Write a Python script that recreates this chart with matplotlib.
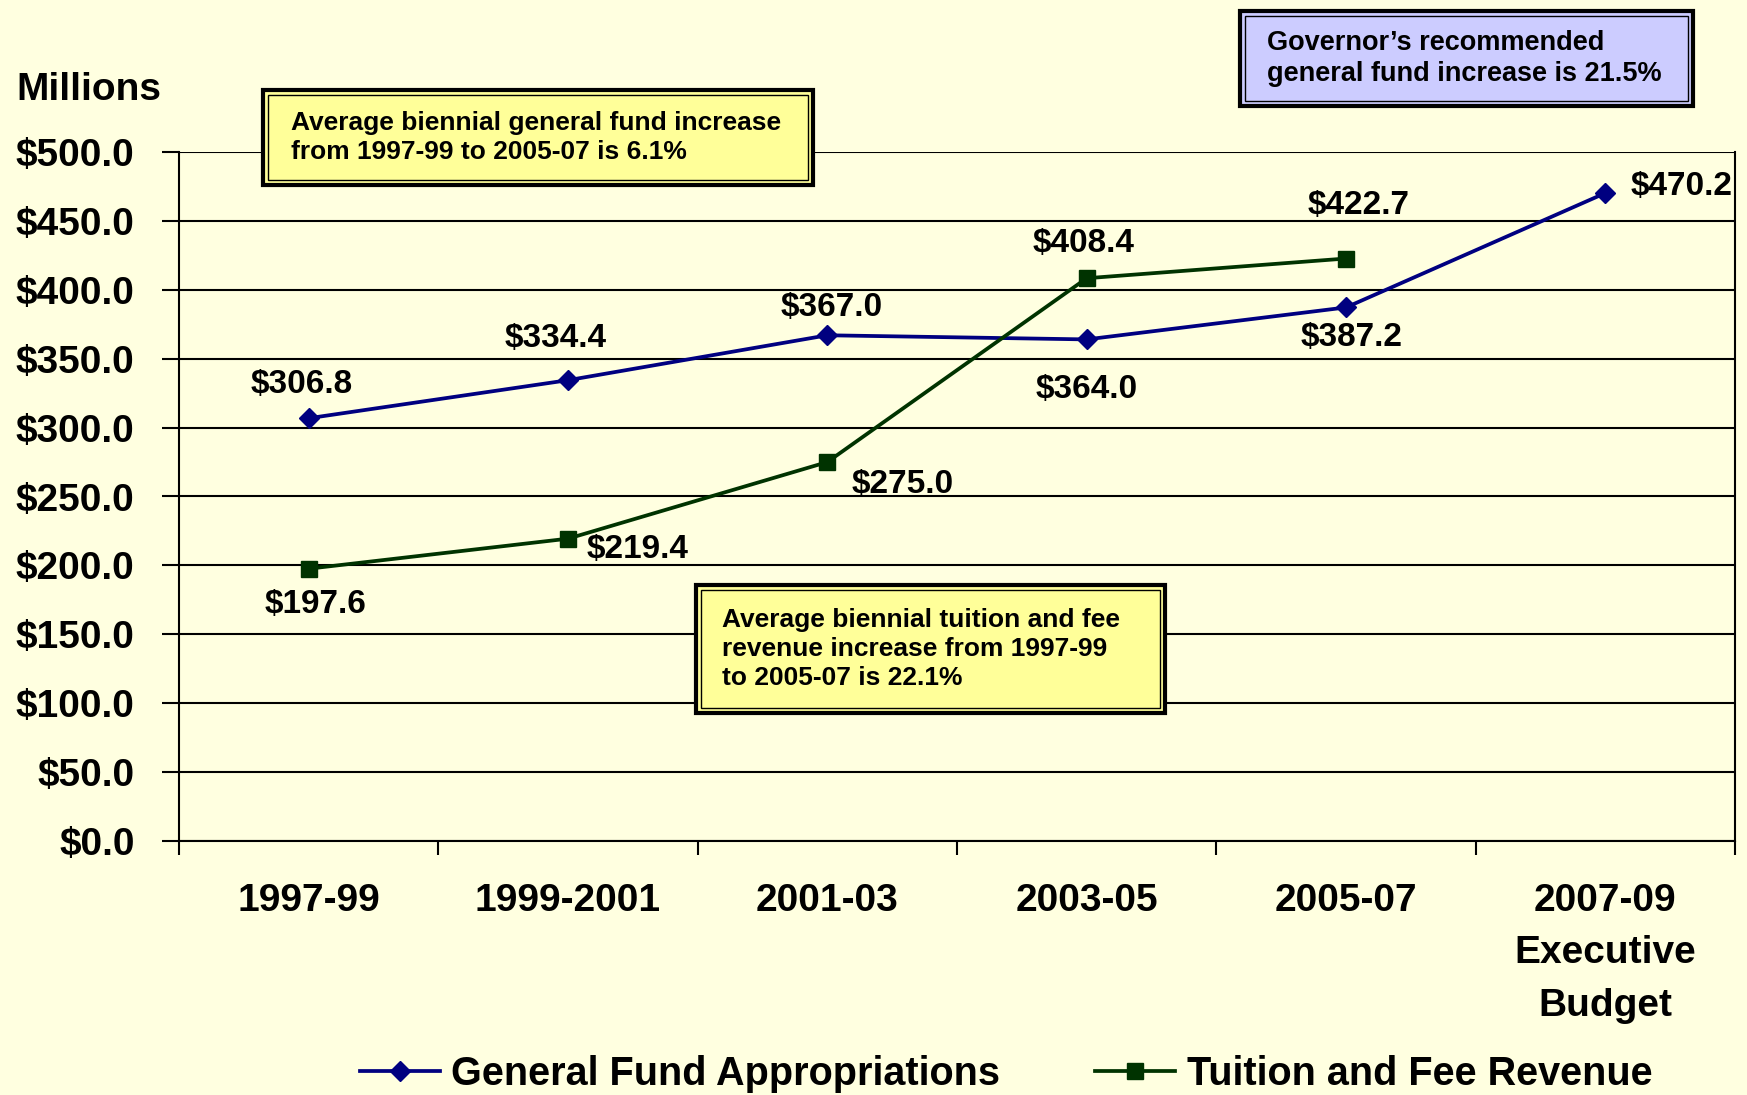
import matplotlib.pyplot as plt
from matplotlib.patches import Rectangle
from matplotlib.lines import Line2D

periodos = ['1997-99', '1999-2001', '2001-03', '2003-05', '2005-07', '2007-09\nExecutive\nBudget']
fundo_geral = [306.8, 334.4, 367.0, 364.0, 387.2, 470.2]
matricula = [197.6, 219.4, 275.0, 408.4, 422.7]
yticks = [0, 50, 100, 150, 200, 250, 300, 350, 400, 450, 500]

W, H = 1747, 1095
fundo = '#FFFFE0'
azul = '#000080'
verde = '#003300'
fonte = ['Liberation Sans', 'DejaVu Sans']

fig = plt.figure(figsize=(W / 100, H / 100), dpi=100, facecolor=fundo)
ax = fig.add_axes([179 / W, 1 - 841 / H, (1735 - 179) / W, (841 - 152) / H])
ax.set_facecolor(fundo)

x = list(range(len(periodos)))
ax.plot(x, fundo_geral, color=azul, lw=2.7, marker='D', ms=10, mfc=azul, mec=azul, zorder=4)
ax.plot(x[:len(matricula)], matricula, color=verde, lw=2.7, marker='s', ms=11, mfc=verde, mec=verde, zorder=4)

# rótulos dos pontos (deslocamentos em pontos)
off_fg = [(-5, 24), (-9, 30), (3, 20), (0, -36), (4, -22), (55, 5)]
off_mt = [(5, -26), (50, -8), (54, -16), (-2, 25), (9, 38)]
for i, v in enumerate(fundo_geral):
    ax.annotate(f'${v:.1f}', (i, v), xytext=off_fg[i], textcoords='offset points',
                ha='center', va='center', fontsize=24, fontweight='bold', family=fonte)
for i, v in enumerate(matricula):
    ax.annotate(f'${v:.1f}', (i, v), xytext=off_mt[i], textcoords='offset points',
                ha='center', va='center', fontsize=24, fontweight='bold', family=fonte)

ax.set_xlim(-0.5, len(periodos) - 0.5)
ax.set_ylim(0, 500)
ax.set_yticks(yticks)
ax.set_yticklabels([f'${v:.1f}' for v in yticks], fontsize=28, fontweight='bold', family=fonte)
ax.yaxis.grid(True, color='black', lw=1.5)
ax.set_axisbelow(True)
ax.tick_params(axis='y', length=12, width=1.5, pad=20)

ax.set_xticks([i - 0.5 for i in range(len(periodos) + 1)])
ax.set_xticklabels([])
ax.set_xticks(x, minor=True)
ax.set_xticklabels(periodos, minor=True, fontsize=28, fontweight='bold', family=fonte, linespacing=1.6, va='top')
ax.tick_params(axis='x', which='major', length=10, width=1.5)
ax.tick_params(axis='x', which='minor', length=0, pad=30)
for s in ['left', 'bottom', 'right']:
    ax.spines[s].set_linewidth(1.5)
ax.spines['top'].set_visible(False)

fig.text(16 / W, 1 - 90 / H, 'Millions', fontsize=28, fontweight='bold', family=fonte, va='center')


def caixa(x0, y0, x1, y1, cor, linhas, tx, tam):
    fig.patches.append(Rectangle((x0 / W, 1 - y1 / H), (x1 - x0) / W, (y1 - y0) / H,
                                 transform=fig.transFigure, facecolor=cor, edgecolor='black', lw=3, zorder=5))
    fig.patches.append(Rectangle(((x0 + 5) / W, 1 - (y1 - 5) / H), (x1 - x0 - 10) / W, (y1 - y0 - 10) / H,
                                 transform=fig.transFigure, facecolor='none', edgecolor='black', lw=1, zorder=6))
    fig.text(tx / W, 1 - (y0 + y1) / 2 / H, linhas, fontsize=tam, fontweight='bold', family=fonte,
             va='center', ha='left', linespacing=1.25, zorder=7)


caixa(263, 90, 813, 185, '#FFFF99', 'Average biennial general fund increase\nfrom 1997-99 to 2005-07 is 6.1%', 291, 19)
caixa(696, 585, 1165, 713, '#FFFF99', 'Average biennial tuition and fee\nrevenue increase from 1997-99\nto 2005-07 is 22.1%', 722, 19)
caixa(1240, 11, 1693, 106, '#CCCCFF', 'Governor\u2019s recommended\ngeneral fund increase is 21.5%', 1267, 19.5)

handles = [Line2D([], [], color=azul, lw=2.7, marker='D', ms=10),
           Line2D([], [], color=verde, lw=2.7, marker='s', ms=11)]
fig.legend(handles, ['General Fund Appropriations', 'Tuition and Fee Revenue'], loc='center',
           bbox_to_anchor=(0.576, 0.019), ncol=2, frameon=False, handlelength=2.0, handletextpad=0.3,
           columnspacing=2.4, prop={'family': fonte, 'weight': 'bold', 'size': 28.5})

fig.savefig('out.png', dpi=100, facecolor=fundo)
